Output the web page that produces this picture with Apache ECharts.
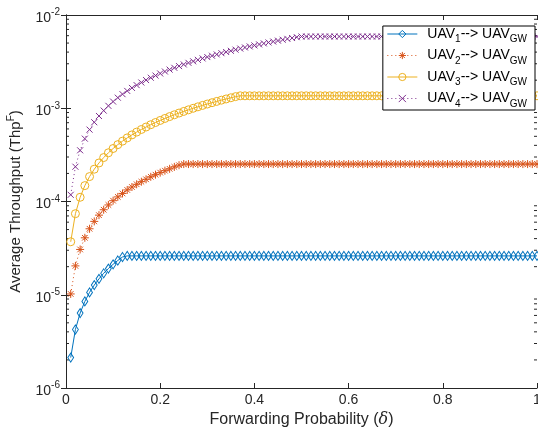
<!DOCTYPE html>
<html>
<head>
<meta charset="utf-8">
<script src="https://cdn.jsdelivr.net/npm/echarts@6/dist/echarts.min.js"></script>
<style>
  html, body { margin: 0; padding: 0; background: #fff; overflow: hidden; }
  #chart { width: 538px; height: 432px; }
</style>
</head>
<body>
<div id="chart"></div>
<script>
// Forwarding probability samples
const delta = [
  0.01, 0.02, 0.03, 0.04, 0.05, 0.06, 0.07, 0.08, 0.09, 0.10,
  0.11, 0.12, 0.13, 0.14, 0.15, 0.16, 0.17, 0.18, 0.19, 0.20,
  0.21, 0.22, 0.23, 0.24, 0.25, 0.26, 0.27, 0.28, 0.29, 0.30,
  0.31, 0.32, 0.33, 0.34, 0.35, 0.36, 0.37, 0.38, 0.39, 0.40,
  0.41, 0.42, 0.43, 0.44, 0.45, 0.46, 0.47, 0.48, 0.49, 0.50,
  0.51, 0.52, 0.53, 0.54, 0.55, 0.56, 0.57, 0.58, 0.59, 0.60,
  0.61, 0.62, 0.63, 0.64, 0.65, 0.66, 0.67, 0.68, 0.69, 0.70,
  0.71, 0.72, 0.73, 0.74, 0.75, 0.76, 0.77, 0.78, 0.79, 0.80,
  0.81, 0.82, 0.83, 0.84, 0.85, 0.86, 0.87, 0.88, 0.89, 0.90,
  0.91, 0.92, 0.93, 0.94, 0.95, 0.96, 0.97, 0.98, 0.99, 1.00
];

// Average throughput per link
const thpUav1 = [
  2.12e-6, 4.24e-6, 6.36e-6, 8.48e-6, 1.06e-5, 1.27e-5, 1.48e-5, 1.70e-5, 1.91e-5, 2.12e-5,
  2.33e-5, 2.54e-5, 2.61e-5, 2.61e-5, 2.61e-5, 2.61e-5, 2.61e-5, 2.61e-5, 2.61e-5, 2.61e-5,
  2.61e-5, 2.61e-5, 2.61e-5, 2.61e-5, 2.61e-5, 2.61e-5, 2.61e-5, 2.61e-5, 2.61e-5, 2.61e-5,
  2.61e-5, 2.61e-5, 2.61e-5, 2.61e-5, 2.61e-5, 2.61e-5, 2.61e-5, 2.61e-5, 2.61e-5, 2.61e-5,
  2.61e-5, 2.61e-5, 2.61e-5, 2.61e-5, 2.61e-5, 2.61e-5, 2.61e-5, 2.61e-5, 2.61e-5, 2.61e-5,
  2.61e-5, 2.61e-5, 2.61e-5, 2.61e-5, 2.61e-5, 2.61e-5, 2.61e-5, 2.61e-5, 2.61e-5, 2.61e-5,
  2.61e-5, 2.61e-5, 2.61e-5, 2.61e-5, 2.61e-5, 2.61e-5, 2.61e-5, 2.61e-5, 2.61e-5, 2.61e-5,
  2.61e-5, 2.61e-5, 2.61e-5, 2.61e-5, 2.61e-5, 2.61e-5, 2.61e-5, 2.61e-5, 2.61e-5, 2.61e-5,
  2.61e-5, 2.61e-5, 2.61e-5, 2.61e-5, 2.61e-5, 2.61e-5, 2.61e-5, 2.61e-5, 2.61e-5, 2.61e-5,
  2.61e-5, 2.61e-5, 2.61e-5, 2.61e-5, 2.61e-5, 2.61e-5, 2.61e-5, 2.61e-5, 2.61e-5, 2.61e-5
];
const thpUav2 = [
  1.02e-5, 2.04e-5, 3.06e-5, 4.08e-5, 5.10e-5, 6.12e-5, 7.14e-5, 8.16e-5, 9.18e-5, 1.02e-4,
  1.12e-4, 1.22e-4, 1.33e-4, 1.43e-4, 1.53e-4, 1.63e-4, 1.73e-4, 1.84e-4, 1.94e-4, 2.04e-4,
  2.14e-4, 2.24e-4, 2.35e-4, 2.45e-4, 2.52e-4, 2.52e-4, 2.52e-4, 2.52e-4, 2.52e-4, 2.52e-4,
  2.52e-4, 2.52e-4, 2.52e-4, 2.52e-4, 2.52e-4, 2.52e-4, 2.52e-4, 2.52e-4, 2.52e-4, 2.52e-4,
  2.52e-4, 2.52e-4, 2.52e-4, 2.52e-4, 2.52e-4, 2.52e-4, 2.52e-4, 2.52e-4, 2.52e-4, 2.52e-4,
  2.52e-4, 2.52e-4, 2.52e-4, 2.52e-4, 2.52e-4, 2.52e-4, 2.52e-4, 2.52e-4, 2.52e-4, 2.52e-4,
  2.52e-4, 2.52e-4, 2.52e-4, 2.52e-4, 2.52e-4, 2.52e-4, 2.52e-4, 2.52e-4, 2.52e-4, 2.52e-4,
  2.52e-4, 2.52e-4, 2.52e-4, 2.52e-4, 2.52e-4, 2.52e-4, 2.52e-4, 2.52e-4, 2.52e-4, 2.52e-4,
  2.52e-4, 2.52e-4, 2.52e-4, 2.52e-4, 2.52e-4, 2.52e-4, 2.52e-4, 2.52e-4, 2.52e-4, 2.52e-4,
  2.52e-4, 2.52e-4, 2.52e-4, 2.52e-4, 2.52e-4, 2.52e-4, 2.52e-4, 2.52e-4, 2.52e-4, 2.52e-4
];
const thpUav3 = [
  3.70e-5, 7.40e-5, 1.11e-4, 1.48e-4, 1.85e-4, 2.22e-4, 2.59e-4, 2.96e-4, 3.33e-4, 3.70e-4,
  4.07e-4, 4.44e-4, 4.81e-4, 5.18e-4, 5.55e-4, 5.92e-4, 6.29e-4, 6.66e-4, 7.03e-4, 7.40e-4,
  7.77e-4, 8.14e-4, 8.51e-4, 8.88e-4, 9.25e-4, 9.62e-4, 9.99e-4, 1.036e-3, 1.073e-3, 1.110e-3,
  1.147e-3, 1.184e-3, 1.221e-3, 1.258e-3, 1.295e-3, 1.332e-3, 1.36e-3, 1.36e-3, 1.36e-3, 1.36e-3,
  1.36e-3, 1.36e-3, 1.36e-3, 1.36e-3, 1.36e-3, 1.36e-3, 1.36e-3, 1.36e-3, 1.36e-3, 1.36e-3,
  1.36e-3, 1.36e-3, 1.36e-3, 1.36e-3, 1.36e-3, 1.36e-3, 1.36e-3, 1.36e-3, 1.36e-3, 1.36e-3,
  1.36e-3, 1.36e-3, 1.36e-3, 1.36e-3, 1.36e-3, 1.36e-3, 1.36e-3, 1.36e-3, 1.36e-3, 1.36e-3,
  1.36e-3, 1.36e-3, 1.36e-3, 1.36e-3, 1.36e-3, 1.36e-3, 1.36e-3, 1.36e-3, 1.36e-3, 1.36e-3,
  1.36e-3, 1.36e-3, 1.36e-3, 1.36e-3, 1.36e-3, 1.36e-3, 1.36e-3, 1.36e-3, 1.36e-3, 1.36e-3,
  1.36e-3, 1.36e-3, 1.36e-3, 1.36e-3, 1.36e-3, 1.36e-3, 1.36e-3, 1.36e-3, 1.36e-3, 1.36e-3
];
const thpUav4 = [
  1.18e-4, 2.36e-4, 3.54e-4, 4.72e-4, 5.90e-4, 7.08e-4, 8.26e-4, 9.44e-4, 1.062e-3, 1.180e-3,
  1.298e-3, 1.416e-3, 1.534e-3, 1.652e-3, 1.770e-3, 1.888e-3, 2.006e-3, 2.124e-3, 2.242e-3, 2.360e-3,
  2.478e-3, 2.596e-3, 2.714e-3, 2.832e-3, 2.950e-3, 3.068e-3, 3.186e-3, 3.304e-3, 3.422e-3, 3.540e-3,
  3.658e-3, 3.776e-3, 3.894e-3, 4.012e-3, 4.130e-3, 4.248e-3, 4.366e-3, 4.484e-3, 4.602e-3, 4.720e-3,
  4.838e-3, 4.956e-3, 5.074e-3, 5.192e-3, 5.310e-3, 5.428e-3, 5.546e-3, 5.664e-3, 5.782e-3, 5.88e-3,
  5.88e-3, 5.88e-3, 5.88e-3, 5.88e-3, 5.88e-3, 5.88e-3, 5.88e-3, 5.88e-3, 5.88e-3, 5.88e-3,
  5.88e-3, 5.88e-3, 5.88e-3, 5.88e-3, 5.88e-3, 5.88e-3, 5.88e-3, 5.88e-3, 5.88e-3, 5.88e-3,
  5.88e-3, 5.88e-3, 5.88e-3, 5.88e-3, 5.88e-3, 5.88e-3, 5.88e-3, 5.88e-3, 5.88e-3, 5.88e-3,
  5.88e-3, 5.88e-3, 5.88e-3, 5.88e-3, 5.88e-3, 5.88e-3, 5.88e-3, 5.88e-3, 5.88e-3, 5.88e-3,
  5.88e-3, 5.88e-3, 5.88e-3, 5.88e-3, 5.88e-3, 5.88e-3, 5.88e-3, 5.88e-3, 5.88e-3, 5.88e-3
];

const sourceIds = ['1', '2', '3', '4'];
const seriesNames = ['UAV1 --> UAVGW', 'UAV2 --> UAVGW', 'UAV3 --> UAVGW', 'UAV4 --> UAVGW'];
const xTickLabels = ['0', '0.2', '0.4', '0.6', '0.8', '1'];
const yTickExponents = ['-6', '-5', '-4', '-3', '-2'];

const FONT = '"Liberation Sans", Arial, Helvetica, sans-serif';
const AXIS = '#262626';
const COLORS = ['#0072BD', '#D95319', '#EDB120', '#7E2F8E'];

// marker outlines
const SYM_DIAMOND = 'path://M5,0L10,6L5,12L0,6Z';
const SYM_STAR = 'path://M5,0L5,10M0,5L10,5M1.5,1.5L8.5,8.5M8.5,1.5L1.5,8.5';
const SYM_CIRCLE = 'circle';
const SYM_CROSS = 'path://M0,0L10,10M10,0L0,10';

// minor tick values of the log axis (2..9 within each decade)
const minorTickValues = [];
for (let d = -6; d < -2; d++) {
  for (let k = 2; k <= 9; k++) minorTickValues.push(k * Math.pow(10, d));
}

function pairs(ys) { return delta.map((x, i) => [x, ys[i]]); }

function lineSeries(idx, ys, symbol, size, dashed) {
  const c = COLORS[idx];
  return {
    name: seriesNames[idx],
    type: 'line',
    xAxisIndex: 0,
    yAxisIndex: 0,
    data: pairs(ys),
    symbol: symbol,
    symbolSize: size,
    showAllSymbol: true,
    symbolKeepAspect: true,
    color: c,
    lineStyle: { color: c, width: 1, type: dashed ? [1, 3] : 'solid' },
    itemStyle: { color: 'rgba(255,255,255,0)', borderColor: c, borderWidth: 1 },
    emphasis: { disabled: true },
    z: 3 + idx
  };
}

// short inward ticks on both vertical sides at the minor log positions
const minorTickSeries = {
  type: 'custom',
  silent: true,
  clip: false,
  xAxisIndex: 0,
  yAxisIndex: 0,
  z: 1,
  data: minorTickValues.map(v => [0, v]),
  renderItem: function (params, api) {
    const v = api.value(1);
    const l = api.coord([0, v]);
    const r = api.coord([1, v]);
    const st = { stroke: AXIS, lineWidth: 1 };
    return {
      type: 'group',
      children: [
        { type: 'line', shape: { x1: l[0], y1: l[1], x2: l[0] + 3, y2: l[1] }, style: st },
        { type: 'line', shape: { x1: r[0] - 3, y1: r[1], x2: r[0], y2: r[1] }, style: st }
      ]
    };
  }
};

const chart = echarts.init(document.getElementById('chart'), null, { renderer: 'canvas' });

const baseAxis = {
  axisLine: { show: true, lineStyle: { color: AXIS, width: 1 } },
  splitLine: { show: false }
};

chart.setOption({
  animation: false,
  backgroundColor: '#fff',
  textStyle: { fontFamily: FONT },
  grid: { left: 66, right: 1, top: 15, bottom: 44, containLabel: false, outerBoundsMode: 'none' },
  legend: {
    orient: 'vertical',
    right: 3,
    top: 26,
    z: 20,
    itemWidth: 30,
    itemHeight: 9,
    itemGap: 4,
    padding: [1, 8, 1, 4],
    backgroundColor: '#fff',
    borderColor: '#000',
    borderWidth: 1,
    borderRadius: 0,
    selectedMode: false,
    data: seriesNames,
    itemStyle: { color: 'rgba(255,255,255,0)', borderWidth: 1 },
    lineStyle: { width: 1 },
    formatter: function (name) {
      const i = seriesNames.indexOf(name);
      return '{f|UAV}{s|' + sourceIds[i] + '}{b|--> UAV}{s|GW}';
    },
    textStyle: {
      color: '#000',
      fontFamily: FONT,
      rich: {
        f: { fontSize: 14, fontFamily: FONT, color: '#000', lineHeight: 18, padding: [0, 0, 0, 5] },
        b: { fontSize: 14, fontFamily: FONT, color: '#000', lineHeight: 18 },
        s: { fontSize: 10, fontFamily: FONT, color: '#000', padding: [11, 0, 0, 0] }
      }
    }
  },
  xAxis: [
    Object.assign({}, baseAxis, {
      type: 'value', min: 0, max: 1, interval: 0.2, position: 'bottom',
      axisTick: { show: true, inside: true, length: 5, lineStyle: { color: AXIS } },
      axisLabel: {
        show: true, color: AXIS, fontSize: 14, fontFamily: FONT, margin: 5,
        formatter: function (v) { return xTickLabels[Math.round(v / 0.2)]; }
      },
      name: 'Forwarding Probability ({i|δ})',
      nameLocation: 'middle',
      nameGap: 20,
      nameTextStyle: {
        color: AXIS, fontSize: 16, fontFamily: FONT,
        rich: { i: { fontSize: 16, fontStyle: 'italic', fontFamily: '"DejaVu Serif", serif', color: AXIS } }
      }
    }),
    Object.assign({}, baseAxis, {
      type: 'value', min: 0, max: 1, interval: 0.2, position: 'top',
      axisTick: { show: true, inside: true, length: 5, lineStyle: { color: AXIS } },
      axisLabel: { show: false }
    })
  ],
  yAxis: [
    Object.assign({}, baseAxis, {
      type: 'log', logBase: 10, min: 1e-6, max: 1e-2, position: 'left',
      axisTick: { show: true, inside: true, length: 5, lineStyle: { color: AXIS } },
      axisLabel: {
        show: true, color: AXIS, margin: 6, fontFamily: FONT,
        formatter: function (v) {
          const e = Math.round(Math.log10(v));
          return '{b|10}{s|' + yTickExponents[e + 6] + '}';
        },
        rich: {
          b: { fontSize: 14, fontFamily: FONT, color: AXIS, padding: [6, 0, 0, 0] },
          s: { fontSize: 10, fontFamily: FONT, color: AXIS, padding: [0, 0, 5, 0] }
        }
      },
      name: 'Average Throughput (Thp{s|F})',
      nameLocation: 'middle',
      nameGap: 40,
      nameRotate: 90,
      nameTextStyle: {
        color: AXIS, fontSize: 15, fontFamily: FONT,
        rich: { s: { fontSize: 10, fontFamily: FONT, color: AXIS, padding: [0, 0, 10, 0] } }
      }
    }),
    Object.assign({}, baseAxis, {
      type: 'log', logBase: 10, min: 1e-6, max: 1e-2, position: 'right',
      axisTick: { show: true, inside: true, length: 5, lineStyle: { color: AXIS } },
      axisLabel: { show: false }
    })
  ],
  series: [
    minorTickSeries,
    lineSeries(0, thpUav1, SYM_DIAMOND, [7, 9], false),
    lineSeries(1, thpUav2, SYM_STAR, 8, true),
    lineSeries(2, thpUav3, SYM_CIRCLE, 8, false),
    lineSeries(3, thpUav4, SYM_CROSS, 6, true)
  ]
});
</script>
</body>
</html>
